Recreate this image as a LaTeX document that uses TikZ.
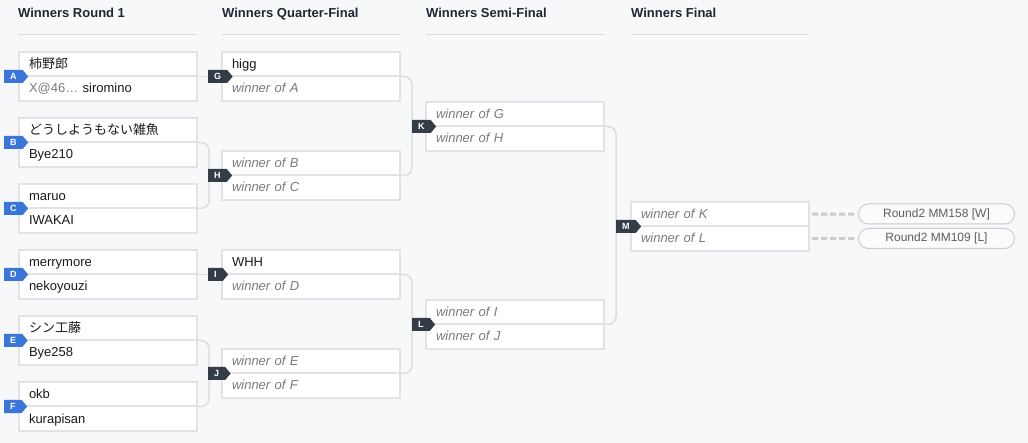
\documentclass[tikz,border=0pt]{standalone}
\usepackage{fontspec}
\setmainfont{Liberation Sans}
\newfontfamily\jpfont{Noto Sans CJK JP}
\usetikzlibrary{positioning, shapes.symbols}

\definecolor{bgcol}{HTML}{F7F8FA}
\definecolor{boxcol}{HTML}{E1E3E6}
\definecolor{rulecol}{HTML}{DADCE0}
\definecolor{linkcol}{HTML}{DCDEE1}
\definecolor{headcol}{HTML}{1E2733}
\definecolor{namecol}{HTML}{1A1A1A}
\definecolor{wincol}{HTML}{777B80}
\definecolor{seedblue}{HTML}{3A75DC}
\definecolor{seeddark}{HTML}{343C48}
\definecolor{dashcol}{HTML}{C9CCD0}
\definecolor{pilltext}{HTML}{5A5F66}

\begin{document}
\begin{tikzpicture}[x=1pt, y=-1pt,
  head/.style ={anchor=base west, inner sep=0pt, text=headcol,
                font=\fontsize{13}{15}\selectfont\bfseries},
  rule/.style ={draw=rulecol, line width=1pt},
  row/.style  ={draw=boxcol, fill=white, line width=2pt, outer sep=0pt,
                text width=158pt, inner xsep=10pt, inner ysep=6pt,
                text height=10.5pt, text depth=2pt, minimum height=24.5pt,
                align=left, text=namecol, font=\fontsize{13}{15}\selectfont},
  tbd/.style  ={row, text=wincol, font=\fontsize{13}{15}\selectfont\itshape},
  seed/.style ={signal, signal to=east, signal pointer angle=100,
                text height=6.5pt, text depth=0pt, inner xsep=6pt, inner ysep=3pt,
                minimum height=13pt,
                anchor=west, text=white, font=\fontsize{9}{9}\selectfont\bfseries},
  first/.style={seed, fill=seedblue},
  later/.style={seed, fill=seeddark},
  link/.style ={draw=linkcol, line width=1.5pt, rounded corners=8pt},
  dashln/.style={draw=dashcol, line width=3pt, dash pattern=on 6pt off 3pt,
                shorten <=3pt, shorten >=1pt},
  pill/.style ={draw=dashcol, line width=1pt, rounded corners=10pt,
                fill=white!50!bgcol, minimum width=156pt, minimum height=20pt,
                inner sep=0pt, anchor=west, text=pilltext,
                font=\fontsize{12}{14}\selectfont},
]
\fill[bgcol] (0,0) rectangle (1028,443);
\useasboundingbox (0,0) rectangle (1028,443);

% column headers
\node[head] (hR1) at (18,18)  {Winners Round 1};
\node[head] (hQF) at (222,18) {Winners Quarter-Final};
\node[head] (hSF) at (426,18) {Winners Semi-Final};
\node[head] (hF)  at (631,18) {Winners Final};
\draw[rule] (18,35)  -- (197,35);
\draw[rule] (222,35) -- (401,35);
\draw[rule] (426,35) -- (605,35);
\draw[rule] (631,35) -- (809,35);

% round 1
\node[row, anchor=north west] (a1) at (19,52) {\jpfont 柿野郎};
\node[row, below=0pt of a1]   (a2) {\textcolor{wincol}{X@46\ldots} siromino};
\node[row, anchor=north west] (b1) at (19,118) {\jpfont どうしようもない雑魚};
\node[row, below=0pt of b1]   (b2) {Bye210};
\node[row, anchor=north west] (c1) at (19,184) {maruo};
\node[row, below=0pt of c1]   (c2) {IWAKAI};
\node[row, anchor=north west] (d1) at (19,250) {merrymore};
\node[row, below=0pt of d1]   (d2) {nekoyouzi};
\node[row, anchor=north west] (e1) at (19,316) {\jpfont シン工藤};
\node[row, below=0pt of e1]   (e2) {Bye258};
\node[row, anchor=north west] (f1) at (19,382) {okb};
\node[row, below=0pt of f1]   (f2) {kurapisan};

% quarter-finals
\node[row, anchor=north west] (g1) at (222,52) {higg};
\node[tbd, below=0pt of g1]   (g2) {winner of A};
\node[tbd, anchor=north west] (h1) at (222,151) {winner of B};
\node[tbd, below=0pt of h1]   (h2) {winner of C};
\node[row, anchor=north west] (i1) at (222,250) {WHH};
\node[tbd, below=0pt of i1]   (i2) {winner of D};
\node[tbd, anchor=north west] (j1) at (222,349) {winner of E};
\node[tbd, below=0pt of j1]   (j2) {winner of F};

% semi-finals and final
\node[tbd, anchor=north west] (k1) at (426,102) {winner of G};
\node[tbd, below=0pt of k1]   (k2) {winner of H};
\node[tbd, anchor=north west] (l1) at (426,300) {winner of I};
\node[tbd, below=0pt of l1]   (l2) {winner of J};
\node[tbd, anchor=north west] (m1) at (631,202) {winner of K};
\node[tbd, below=0pt of m1]   (m2) {winner of L};

% next matches
\node[pill] (p1) at (858,214)   {Round2 MM158 [W]};
\node[pill] (p2) at (858,238.5) {Round2 MM109 [L]};

% connectors
\draw[link] (a1.south east) -- (g1.south west);
\draw[link] (b1.south east) -- ++(12,0) |- (c1.south east);
\draw[link] (d1.south east) -- (i1.south west);
\draw[link] (e1.south east) -- ++(12,0) |- (f1.south east);
\draw[link] (g1.south east) -- ++(12,0) |- (h1.south east);
\draw[link] (i1.south east) -- ++(12,0) |- (j1.south east);
\draw[link] (k1.south east) -- ++(12,0) |- (l1.south east);
\draw[dashln] (m1.east) -- (p1.west);
\draw[dashln] (m2.east) -- (p2.west);

% match letters
\node[first] (sA) at ([xshift=-15pt]a1.south west) {A};
\node[first] (sB) at ([xshift=-15pt]b1.south west) {B};
\node[first] (sC) at ([xshift=-15pt]c1.south west) {C};
\node[first] (sD) at ([xshift=-15pt]d1.south west) {D};
\node[first] (sE) at ([xshift=-15pt]e1.south west) {E};
\node[first] (sF) at ([xshift=-15pt]f1.south west) {F};
\node[later] (sG) at ([xshift=-14pt]g1.south west) {G};
\node[later] (sH) at ([xshift=-14pt]h1.south west) {H};
\node[later] (sI) at ([xshift=-14pt]i1.south west) {I};
\node[later] (sJ) at ([xshift=-14pt]j1.south west) {J};
\node[later] (sK) at ([xshift=-14pt]k1.south west) {K};
\node[later] (sL) at ([xshift=-14pt]l1.south west) {L};
\node[later] (sM) at ([xshift=-15pt]m1.south west) {M};
\end{tikzpicture}
\end{document}
